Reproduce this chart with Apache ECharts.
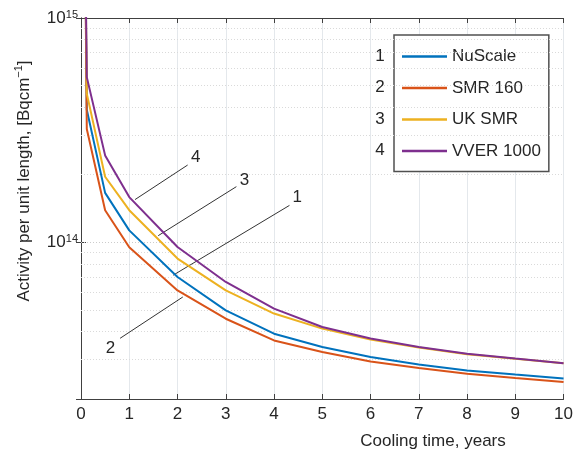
<!DOCTYPE html>
<html>
<head>
<meta charset="utf-8">
<script src="https://cdn.jsdelivr.net/npm/echarts@6/dist/echarts.min.js"></script>
<style>html,body{margin:0;padding:0;background:#fff}#c{width:576px;height:454px}</style>
</head>
<body>
<div id="c"></div>
<script>
// ---- data ----
const coolingTime = [0.08, 0.12, 0.5, 1, 2, 3, 4, 5, 6, 7, 8, 9, 10];
const seriesNames = ['NuScale', 'SMR 160', 'UK SMR', 'VVER 1000'];
const nuScale  = [3e15, 3.9e14, 1.66e14, 1.13e14, 7.0e13, 4.97e13, 3.91e13, 3.41e13, 3.08e13, 2.85e13, 2.68e13, 2.57e13, 2.47e13];
const smr160   = [3e15, 3.2e14, 1.39e14, 9.5e13, 6.1e13, 4.56e13, 3.65e13, 3.24e13, 2.94e13, 2.75e13, 2.59e13, 2.48e13, 2.38e13];
const ukSmr    = [3e15, 4.6e14, 1.96e14, 1.39e14, 8.46e13, 6.1e13, 4.81e13, 4.12e13, 3.68e13, 3.39e13, 3.17e13, 3.02e13, 2.89e13];
const vver1000 = [3e15, 5.45e14, 2.44e14, 1.59e14, 9.53e13, 6.65e13, 5.06e13, 4.19e13, 3.72e13, 3.41e13, 3.18e13, 3.03e13, 2.89e13];
const xTicks = [0, 1, 2, 3, 4, 5, 6, 7, 8, 9, 10];
const yMin = 2e13, yMax = 1e15;
const minorGrid = [3e13, 4e13, 5e13, 6e13, 7e13, 8e13, 9e13, 2e14, 3e14, 4e14, 5e14, 6e14, 7e14, 8e14, 9e14];
const majorGrid = [1e14];
// annotation leader lines (data coordinates) and their numbers
const annLabels = ['4', '3', '1', '2'];
const annFrom = [[1.12, 1.55e14], [1.60, 1.07e14], [1.91, 7.13e13], [2.11, 5.70e13]];
const annTo   = [[2.21, 2.21e14], [3.22, 1.77e14], [4.32, 1.46e14], [0.81, 3.73e13]];
const annText = [[2.38, 2.40e14], [3.39, 1.88e14], [4.48, 1.58e14], [0.61, 3.35e13]];
const legendNumbers = ['1', '2', '3', '4'];

const colors = ['#0072BD', '#D95319', '#EDB120', '#7E2F8E'];
const allVals = [nuScale, smr160, ukSmr, vver1000];
const FONT = 'Liberation Sans, Arial, Helvetica, sans-serif';
const TXT = '#262626';

const chart = echarts.init(document.getElementById('c'), null, {renderer: 'canvas'});

function powLabel(v) {
  const e = Math.log10(v);
  if (Math.abs(e - Math.round(e)) < 1e-6) return '10{s|' + Math.round(e) + '}';
  return '';
}

const curveSeries = seriesNames.map((n, i) => ({
  name: n, type: 'line', xAxisIndex: 0, yAxisIndex: 0,
  data: coolingTime.map((t, k) => [t, allVals[i][k]]),
  showSymbol: false, symbol: 'none', smooth: false, clip: true,
  lineStyle: {width: 2, color: colors[i]}, itemStyle: {color: colors[i]},
  z: 5
}));

const gridSeries = {
  name: 'grid', type: 'line', data: [], silent: true, z: 1,
  markLine: {
    silent: true, symbol: ['none', 'none'], label: {show: false}, animation: false,
    data: minorGrid.map(v => ({yAxis: v, lineStyle: {type: [1, 2], color: '#dadada', width: 1}}))
      .concat(majorGrid.map(v => ({yAxis: v, lineStyle: {type: [1, 2], color: '#cccccc', width: 1}})))
  }
};

const annSeries = {
  name: 'annot', type: 'line', data: [], silent: true, z: 6,
  markLine: {
    silent: true, symbol: ['none', 'none'], label: {show: false}, animation: false,
    lineStyle: {type: 'solid', color: '#333', width: 1},
    data: annFrom.map((f, i) => [{coord: f}, {coord: annTo[i]}])
  },
  markPoint: {
    silent: true, symbol: 'circle', symbolSize: 1, animation: false,
    itemStyle: {color: 'rgba(0,0,0,0)'},
    label: {show: true, position: 'inside', formatter: '{b}', fontSize: 17, color: TXT, fontFamily: FONT},
    data: annText.map((c, i) => ({name: annLabels[i], coord: c}))
  }
};

const axisLineStyle = {color: '#404040', width: 1};

const option = {
  animation: false,
  backgroundColor: '#fff',
  grid: {left: 81, right: 10, top: 18, bottom: 55, containLabel: false},
  xAxis: [
    {type: 'value', min: 0, max: 10, interval: 1, position: 'bottom',
      axisLine: {show: true, lineStyle: axisLineStyle},
      axisTick: {show: true, inside: true, length: 5, lineStyle: axisLineStyle},
      axisLabel: {fontSize: 17, color: TXT, fontFamily: FONT, margin: 7,
        formatter: v => (xTicks.indexOf(v) >= 0 ? String(v) : '')},
      splitLine: {show: true, lineStyle: {color: '#e4e8ec', width: 1}}},
    {type: 'value', min: 0, max: 10, interval: 1, position: 'top',
      axisLine: {show: true, lineStyle: axisLineStyle},
      axisTick: {show: true, inside: true, length: 5, lineStyle: axisLineStyle},
      axisLabel: {show: false}, splitLine: {show: false}}
  ],
  yAxis: [
    {type: 'log', logBase: 10, min: yMin, max: yMax, position: 'left',
      axisLine: {show: true, lineStyle: axisLineStyle},
      axisTick: {show: true, inside: true, length: 5, lineStyle: axisLineStyle},
      axisLabel: {margin: 3, color: TXT, fontFamily: FONT, fontSize: 17,
        formatter: powLabel,
        rich: {s: {fontSize: 11, fontFamily: FONT, color: TXT, verticalAlign: 'top', lineHeight: 11, padding: [0, 0, 10, 0]}}},
      splitLine: {show: false}},
    {type: 'log', logBase: 10, min: yMin, max: yMax, position: 'right',
      axisLine: {show: true, lineStyle: axisLineStyle},
      axisTick: {show: true, inside: true, length: 5, lineStyle: axisLineStyle},
      axisLabel: {show: false}, splitLine: {show: false}}
  ],
  legend: {
    data: seriesNames, orient: 'vertical', left: 394, top: 35,
    icon: 'rect', itemWidth: 45, itemHeight: 2.5, itemGap: 14.5,
    padding: [13, 8, 12, 8], borderColor: '#505050', borderWidth: 1.5, backgroundColor: '#fff',
    textStyle: {fontSize: 17, color: TXT, fontFamily: FONT},
    selectedMode: false
  },
  graphic: [
    {type: 'text', x: 24, y: 181, rotation: Math.PI / 2, z: 10,
      style: {text: 'Activity per unit length, [Bqcm{s|\u22121}]', fontSize: 17, fontFamily: FONT, fill: TXT,
        align: 'center', verticalAlign: 'middle',
        rich: {s: {fontSize: 11, fontFamily: FONT, fill: TXT, verticalAlign: 'top', padding: [0, 0, 10, 0]}}}},
    {type: 'text', x: 433, y: 441, z: 10,
      style: {text: 'Cooling time, years', fontSize: 17, fontFamily: FONT, fill: TXT, align: 'center', verticalAlign: 'middle'}}
  ].concat(legendNumbers.map((n, i) => ({
    type: 'text', x: 380, y: 56 + i * 31.5, z: 10,
    style: {text: n, fontSize: 17, fontFamily: FONT, fill: TXT, align: 'center', verticalAlign: 'middle'}
  }))),
  series: [gridSeries].concat(curveSeries).concat([annSeries])
};
chart.setOption(option);
</script>
</body>
</html>
